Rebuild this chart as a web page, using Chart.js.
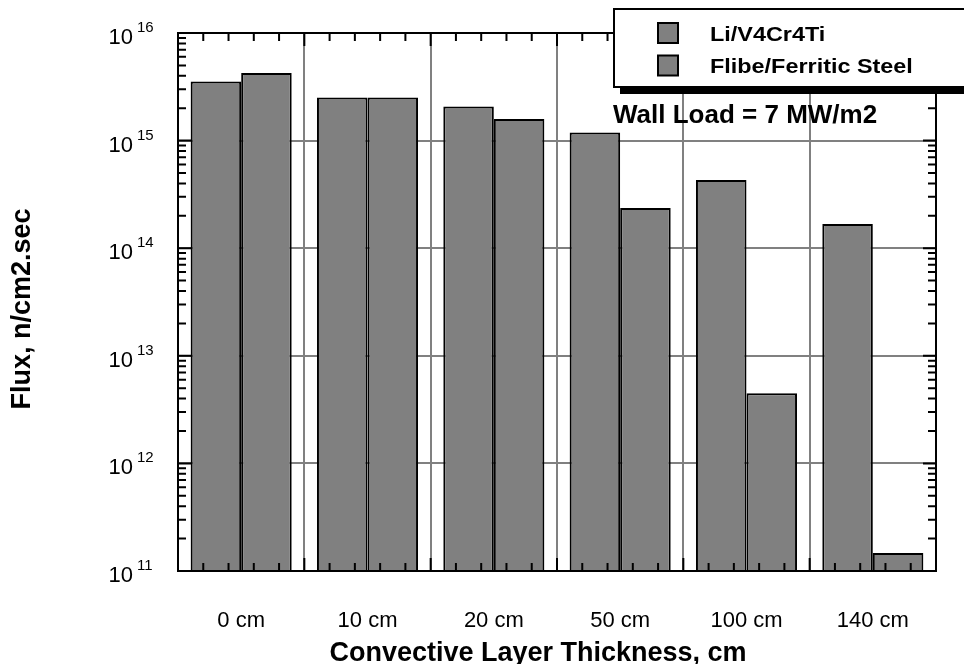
<!DOCTYPE html>
<html>
<head>
<meta charset="utf-8">
<script src="https://cdn.jsdelivr.net/npm/chart.js@4.4.1/dist/chart.umd.min.js"></script>
<style>
  html, body { margin: 0; padding: 0; background: #fff; }
  canvas { display: block; }
</style>
</head>
<body>
<canvas id="chart" width="964" height="664"></canvas>
<script>
// data
var categories = ['0 cm', '10 cm', '20 cm', '50 cm', '100 cm', '140 cm'];
var seriesNames = ['Li/V4Cr4Ti', 'Flibe/Ferritic Steel'];
var liV4Cr4Ti = [3.54e15, 2.51e15, 2.07e15, 1.19e15, 4.3e14, 1.68e14];
var flibeSteel = [4.24e15, 2.51e15, 1.59e15, 2.37e14, 4.48e12, 1.47e11];
var yExponents = [11, 12, 13, 14, 15, 16];
var xTitle = 'Convective Layer Thickness, cm';
var yTitle = 'Flux, n/cm2.sec';
var note = 'Wall Load = 7 MW/m2';

var FONT = '"Liberation Sans", Arial, Helvetica, sans-serif';
var GRAY = '#808080';

var decor = {
  id: 'decor',
  afterDraw: function (chart) {
    var ctx = chart.ctx, a = chart.chartArea;
    var xs = chart.scales.x, ys = chart.scales.y;
    var n = categories.length;
    var cw = (a.right - a.left) / n;
    ctx.save();

    // frame
    ctx.strokeStyle = '#000';
    ctx.lineWidth = 2;
    ctx.strokeRect(a.left, a.top, a.right - a.left, a.bottom - a.top);

    // x ticks (top and bottom, pointing in)
    ctx.beginPath();
    for (var i = 0; i <= n; i++) {
      var left = (i < n ? xs.getPixelForValue(i) : xs.getPixelForValue(n - 1) + cw) - cw / 2;
      for (var k = 0; k < 5; k++) {
        if (i === n && k > 0) break;
        var x = left + k * cw / 5;
        var len = k === 0 ? 13 : 8;
        ctx.moveTo(x, a.bottom); ctx.lineTo(x, a.bottom - len);
        ctx.moveTo(x, a.top); ctx.lineTo(x, a.top + len);
      }
    }
    // y ticks (left and right, pointing in)
    for (var e = yExponents[0]; e <= yExponents[yExponents.length - 1]; e++) {
      for (var m = 1; m <= 9; m++) {
        if (e === yExponents[yExponents.length - 1] && m > 1) break;
        var y = ys.getPixelForValue(m * Math.pow(10, e));
        var l = m === 1 ? 13 : 8;
        ctx.moveTo(a.left, y); ctx.lineTo(a.left + l, y);
        ctx.moveTo(a.right, y); ctx.lineTo(a.right - l, y);
      }
    }
    ctx.stroke();

    // y tick labels with superscript exponent
    ctx.fillStyle = '#000';
    ctx.textBaseline = 'alphabetic';
    yExponents.forEach(function (ex) {
      var py = ys.getPixelForValue(Math.pow(10, ex));
      ctx.font = '22px ' + FONT;
      ctx.textAlign = 'right';
      ctx.fillText('10', 133, py + 11);
      ctx.font = '15px ' + FONT;
      ctx.textAlign = 'left';
      ctx.fillText(String(ex), 137, py - 1);
    });

    // axis titles
    ctx.font = 'bold 27px ' + FONT;
    ctx.textAlign = 'center';
    ctx.fillText(xTitle, 538, 661);
    ctx.save();
    ctx.translate(29.5, 309);
    ctx.rotate(-Math.PI / 2);
    ctx.fillText(yTitle, 0, 0);
    ctx.restore();

    // legend box with drop shadow
    ctx.fillStyle = '#000';
    ctx.fillRect(620, 15, 400, 79);
    ctx.fillStyle = '#fff';
    ctx.fillRect(614, 9, 400, 78);
    ctx.lineWidth = 2;
    ctx.strokeRect(614, 9, 400, 78);
    seriesNames.forEach(function (name, r) {
      var top = 23 + r * 32.5;
      ctx.fillStyle = GRAY;
      ctx.fillRect(658, top, 20, 20);
      ctx.strokeStyle = '#000';
      ctx.strokeRect(658, top, 20, 20);
      ctx.fillStyle = '#000';
      ctx.save();
      ctx.translate(710, top + 17.5);
      ctx.scale(1.17, 1);
      ctx.font = 'bold 20px ' + FONT;
      ctx.textAlign = 'left';
      ctx.fillText(name, 0, 0);
      ctx.restore();
    });

    // annotation
    ctx.font = 'bold 26px ' + FONT;
    ctx.textAlign = 'left';
    ctx.fillText(note, 613, 123);
    ctx.restore();
  }
};

new Chart(document.getElementById('chart').getContext('2d'), {
  type: 'bar',
  data: {
    labels: categories,
    datasets: [
      { label: seriesNames[0], data: liV4Cr4Ti, backgroundColor: GRAY, borderColor: '#000', borderWidth: 2 },
      { label: seriesNames[1], data: flibeSteel, backgroundColor: GRAY, borderColor: '#000', borderWidth: 2 }
    ]
  },
  options: {
    responsive: false,
    devicePixelRatio: 1,
    animation: false,
    layout: { padding: { left: 0, top: 33, right: 28, bottom: 0 } },
    datasets: { bar: { categoryPercentage: 0.8, barPercentage: 1.0 } },
    plugins: { legend: { display: false }, tooltip: { enabled: false } },
    scales: {
      x: {
        grid: { color: GRAY, lineWidth: 2, drawTicks: false, offset: true },
        border: { display: false },
        ticks: { color: '#000', padding: 37, maxRotation: 0, autoSkip: false, font: { family: FONT, size: 22 } },
        afterFit: function (s) { s.height = 93; }
      },
      y: {
        type: 'logarithmic',
        min: 1e11,
        max: 1e16,
        grid: { color: GRAY, lineWidth: 2, drawTicks: false },
        border: { display: false },
        ticks: { display: false },
        afterBuildTicks: function (s) {
          s.ticks = yExponents.map(function (e) { return { value: Math.pow(10, e) }; });
        },
        afterFit: function (s) { s.width = 178; }
      }
    }
  },
  plugins: [decor]
});
</script>
</body>
</html>
